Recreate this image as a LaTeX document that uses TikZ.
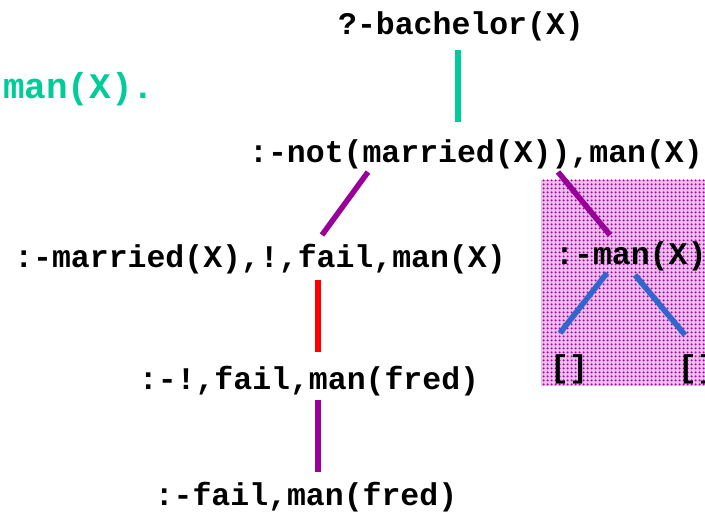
\documentclass[tikz,border=0pt]{standalone}
\usepackage{fontspec}
\newfontfamily\prologfont{Liberation Mono}
\definecolor{goalgreen}{RGB}{0,204,153}
\definecolor{edgepurple}{RGB}{153,0,153}
\definecolor{edgered}{RGB}{255,0,0}
\definecolor{edgeblue}{RGB}{51,102,204}
\definecolor{dotpurple}{RGB}{165,0,165}
\definecolor{dotpink}{RGB}{235,190,235}
\usepackage{tikz}
\usetikzlibrary{patterns.meta}

\begin{document}
\begin{tikzpicture}[x=1pt, y=-1pt,
    goal/.style={inner sep=0pt, anchor=base,
                 font=\prologfont\bfseries\fontsize{31.5}{36}\selectfont},
    branch/.style={line width=5.5pt}]
  \useasboundingbox (0,0) rectangle (705,516);
  \clip (0,0) rectangle (705,516);

  % shaded part of the tree
  \fill[dotpink] (541,180) rectangle (710,386);
  \fill[pattern={Dots[distance=4pt, radius=1.3pt]}, pattern color=dotpurple]
    (541,180) rectangle (710,386);

  \node[goal, anchor=base west, text=goalgreen,
        font=\prologfont\bfseries\fontsize{36}{42}\selectfont] (clause) at (3,99) {man(X).};

  \node[goal] (query)    at (461,35)  {?-bachelor(X)};
  \node[goal] (notgoal)  at (476,163) {:-not(married(X)),man(X)};
  \node[goal] (married)  at (260,268) {:-married(X),!,fail,man(X)};
  \node[goal] (cutgoal)  at (309,389) {:-!,fail,man(fred)};
  \node[goal] (failgoal) at (306,505) {:-fail,man(fred)};
  \node[goal, anchor=base west] (mangoal) at (555,265) {:-man(X)};
  \node[goal] (emptyA) at (569,377) {[]};
  \node[goal] (emptyB) at (697,377) {[]};

  \draw[branch, goalgreen] ([shift={(-3,15)}]query.base) -- ([shift={(-18,-41)}]notgoal.base);
  \draw[branch, edgepurple] ([shift={(-108,9)}]notgoal.base) -- ([shift={(62,-33)}]married.base);
  \draw[branch, edgepurple] ([shift={(82,9)}]notgoal.base) -- ([shift={(55,-30)}]mangoal.base west);
  \draw[branch, edgered] ([shift={(58,12)}]married.base) -- ([shift={(9,-37)}]cutgoal.base);
  \draw[branch, edgepurple] ([shift={(9,11)}]cutgoal.base) -- ([shift={(12,-33)}]failgoal.base);
  \draw[branch, edgeblue] ([shift={(52,8)}]mangoal.base west) -- ([shift={(-9,-44)}]emptyA.base);
  \draw[branch, edgeblue] ([shift={(80,10)}]mangoal.base west) -- ([shift={(-12,-42)}]emptyB.base);
\end{tikzpicture}
\end{document}
